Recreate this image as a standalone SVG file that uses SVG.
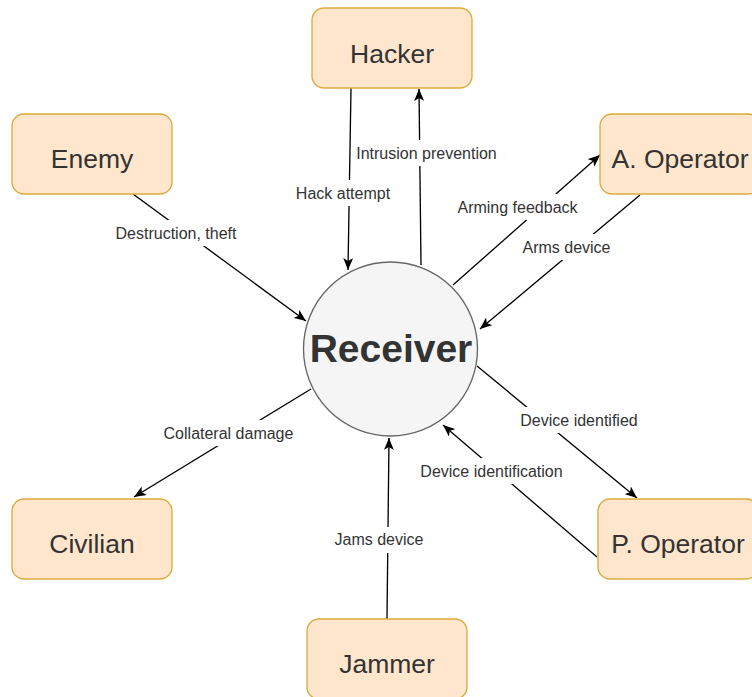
<svg xmlns="http://www.w3.org/2000/svg" width="752" height="697" viewBox="0 0 752 697">
  <defs>
    <marker id="arrow" markerUnits="userSpaceOnUse" markerWidth="12" markerHeight="10" viewBox="0 0 12 10" refX="12" refY="5" orient="auto">
      <path d="M0,0 L12,5 L0,10 L3,5 Z" fill="#000"/>
    </marker>
    <style>
      .box { fill: #ffe6cc; stroke: #dcaa3c; stroke-width: 1.33; }
      .box-text { font-family: "Liberation Sans", Arial, sans-serif; font-size: 26.5px; fill: #333; text-anchor: middle; }
      .edge { stroke: #000; stroke-width: 1.33; fill: none; marker-end: url(#arrow); }
      .lbl-bg { fill: #fff; }
      .lbl { font-family: "Liberation Sans", Arial, sans-serif; font-size: 16px; fill: #333; text-anchor: middle; }
    </style>
  </defs>
  <rect width="752" height="697" fill="#fff"/>

  <!-- connectors: lines first, label plates on top -->
  <g id="connectors">
    <line class="edge" x1="351" y1="88" x2="348" y2="270"/>
    <line class="edge" x1="421" y1="265" x2="419" y2="89"/>
    <line class="edge" x1="133" y1="194" x2="306" y2="321"/>
    <line class="edge" x1="453" y1="285" x2="600" y2="155"/>
    <line class="edge" x1="640" y1="195" x2="480" y2="329"/>
    <line class="edge" x1="311" y1="389" x2="134" y2="497"/>
    <line class="edge" x1="477" y1="366" x2="637" y2="498"/>
    <line class="edge" x1="597" y1="557" x2="443" y2="425"/>
    <line class="edge" x1="387" y1="619" x2="389" y2="438"/>

    <g id="lbl-hack">
      <rect class="lbl-bg" x="294" y="180" width="98" height="26"/>
      <text class="lbl" x="343" y="199">Hack attempt</text>
    </g>
    <g id="lbl-intrusion">
      <rect class="lbl-bg" x="354" y="140" width="145" height="26"/>
      <text class="lbl" x="426.5" y="159">Intrusion prevention</text>
    </g>
    <g id="lbl-destruction">
      <rect class="lbl-bg" x="114" y="220" width="124" height="26"/>
      <text class="lbl" x="176" y="239">Destruction, theft</text>
    </g>
    <g id="lbl-arming">
      <rect class="lbl-bg" x="456" y="194" width="123" height="26"/>
      <text class="lbl" x="517.5" y="213">Arming feedback</text>
    </g>
    <g id="lbl-arms">
      <rect class="lbl-bg" x="521" y="234" width="91" height="26"/>
      <text class="lbl" x="566.5" y="253">Arms device</text>
    </g>
    <g id="lbl-collateral">
      <rect class="lbl-bg" x="162" y="420" width="133" height="26"/>
      <text class="lbl" x="228.5" y="439">Collateral damage</text>
    </g>
    <g id="lbl-identified">
      <rect class="lbl-bg" x="519" y="407" width="120" height="26"/>
      <text class="lbl" x="579" y="426">Device identified</text>
    </g>
    <g id="lbl-identification">
      <rect class="lbl-bg" x="419" y="458" width="145" height="26"/>
      <text class="lbl" x="491.5" y="477">Device identification</text>
    </g>
    <g id="lbl-jams">
      <rect class="lbl-bg" x="333" y="527" width="92" height="26"/>
      <text class="lbl" x="379" y="545">Jams device</text>
    </g>
  </g>

  <g id="receiver">
    <circle cx="390.5" cy="349" r="87" fill="#f5f5f5" stroke="#666" stroke-width="1.33"/>
    <text x="391" y="362" font-family="Liberation Sans, Arial, sans-serif" font-size="39px" font-weight="bold" fill="#333" text-anchor="middle">Receiver</text>
  </g>

  <g id="hacker">
    <rect class="box" x="312" y="8" width="160" height="80" rx="12"/>
    <text class="box-text" x="392" y="63">Hacker</text>
  </g>
  <g id="enemy">
    <rect class="box" x="12" y="114" width="160" height="80" rx="12"/>
    <text class="box-text" x="92" y="168">Enemy</text>
  </g>
  <g id="a-operator">
    <rect class="box" x="600" y="114" width="160" height="80" rx="12"/>
    <text class="box-text" x="680" y="168">A. Operator</text>
  </g>
  <g id="civilian">
    <rect class="box" x="12" y="499" width="160" height="80" rx="12"/>
    <text class="box-text" x="92" y="553">Civilian</text>
  </g>
  <g id="p-operator">
    <rect class="box" x="598" y="499" width="160" height="80" rx="12"/>
    <text class="box-text" x="678" y="553">P. Operator</text>
  </g>
  <g id="jammer">
    <rect class="box" x="307" y="619" width="160" height="80" rx="12"/>
    <text class="box-text" x="387" y="673">Jammer</text>
  </g>
</svg>
